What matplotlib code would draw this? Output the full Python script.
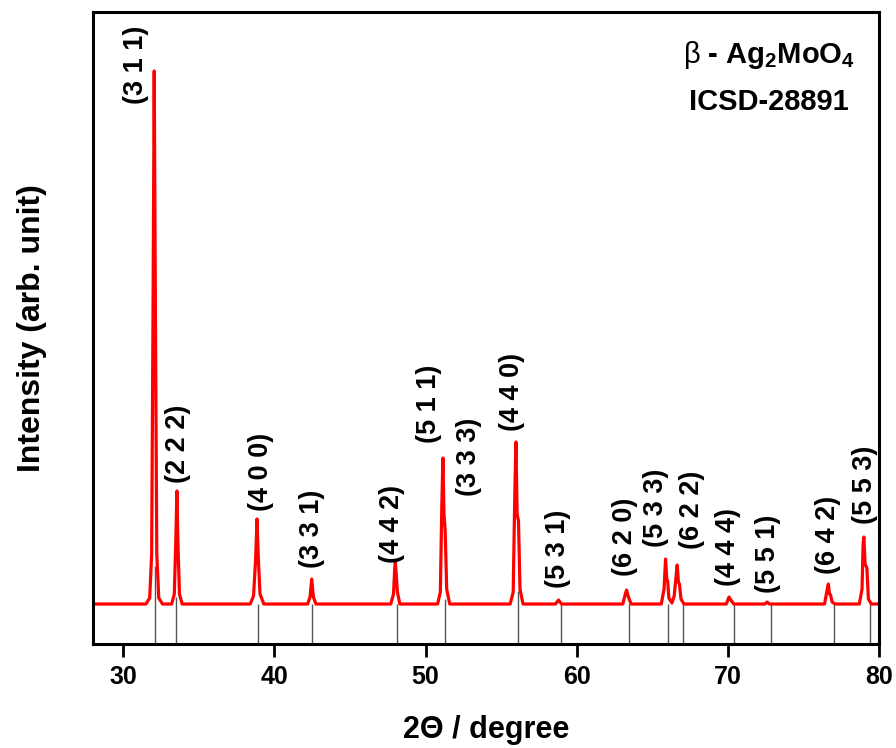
import numpy as np
import matplotlib
matplotlib.use('Agg')
import matplotlib.pyplot as plt

plt.rcParams['font.family'] = ['Liberation Sans', 'DejaVu Sans']
plt.rcParams['mathtext.fontset'] = 'custom'
plt.rcParams['mathtext.rm'] = 'Liberation Sans'
plt.rcParams['mathtext.bf'] = 'Liberation Sans:bold'
plt.rcParams['mathtext.it'] = 'Liberation Sans:italic'

# measured pattern (2theta, intensity in arb. units)
two_theta = [28.0, 31.5, 31.75, 31.88, 31.97, 32.05, 32.13, 32.22, 32.35, 32.6,
             33.2, 33.38, 33.48, 33.55, 33.62, 33.72, 33.9,
             38.4, 38.62, 38.76, 38.85, 38.94, 39.05, 39.3,
             42.2, 42.36, 42.47, 42.58, 42.75,
             47.7, 47.88, 47.96, 48.0, 48.06, 48.14, 48.3,
             50.8, 50.98, 51.08, 51.15, 51.22, 51.3, 51.4, 51.6,
             55.6, 55.8, 55.9, 55.98, 56.06, 56.15, 56.25, 56.45,
             58.6, 58.8, 59.0,
             63.05, 63.22, 63.3, 63.4, 63.6,
             65.6, 65.78, 65.88, 65.96, 66.02, 66.1, 66.3, 66.45, 66.65, 66.73, 66.8, 66.9, 67.1,
             69.9, 70.08, 70.2, 70.4,
             72.45, 72.6, 72.75,
             76.4, 76.58, 76.65, 76.73, 76.8, 76.9, 77.1,
             78.7, 78.88, 78.95, 79.0, 79.08, 79.2, 79.3, 79.5, 80.0]
intensity = [40, 40, 46, 90, 330, 573, 330, 90, 46, 40,
             40, 50, 105, 153, 100, 50, 40,
             40, 48, 85, 125, 85, 50, 40,
             40, 47, 65, 47, 40,
             40, 50, 75, 82, 70, 52, 40,
             40, 52, 140, 186, 130, 113, 55, 40,
             40, 52, 145, 202, 130, 123, 55, 40,
             40, 44, 40,
             40, 50, 54, 48, 40,
             40, 55, 85, 65, 63, 46, 41, 48, 79, 62, 60, 45, 40,
             40, 47, 44, 40,
             40, 42, 40,
             40, 55, 60, 50, 49, 42, 40,
             40, 55, 100, 107, 80, 76, 45, 40, 40]

# ICSD-28891 reference reflections
ref_pos = [32.08, 33.52, 38.89, 42.52, 48.13, 51.27, 56.15, 58.95,
           63.49, 66.07, 67.01, 70.38, 72.87, 77.0, 79.38]
ref_height = [78, 47, 40, 40, 40, 45, 53, 40, 40, 40, 40, 40, 40, 40, 40]

# hkl labels
hkl = ['(3 1 1)', '(2 2 2)', '(4 0 0)', '(3 3 1)', '(4 4 2)', '(5 1 1)', '(3 3 3)', '(4 4 0)',
       '(5 3 1)', '(6 2 0)', '(5 3 3)', '(6 2 2)', '(4 4 4)', '(5 5 1)', '(6 4 2)', '(5 5 3)']
hkl_x = [30.86, 33.64, 39.1, 42.52, 47.81, 50.26, 52.9, 55.7,
         58.75, 63.2, 65.23, 67.6, 69.98, 72.64, 76.62, 79.07]
hkl_y = [540, 161, 133, 76, 81, 201, 148, 213,
         56, 68, 97, 95, 58, 51, 70, 120]

fig = plt.figure(figsize=(8.96, 7.48), dpi=100)
ax = fig.add_axes([0.1038, 0.139, 0.8772, 0.845])

ax.vlines(ref_pos, 0, ref_height, color='#555555', lw=1.0, zorder=1)
ax.plot(two_theta, intensity, color='#ff0000', lw=2.3, zorder=2)

for t, x, y in zip(hkl, hkl_x, hkl_y):
    ax.text(x, y, t, rotation=90, ha='center', va='bottom',
            fontsize=19.5, fontweight='bold')

ax.text(0.86, 0.919, r'$\mathrm{\beta}$ - Ag$_\mathbf{2}$MoO$_\mathbf{4}$',
        transform=ax.transAxes, ha='center', va='baseline', fontsize=21, fontweight='bold')
ax.text(0.86, 0.845, 'ICSD-28891', transform=ax.transAxes, ha='center', va='baseline',
        fontsize=21, fontweight='bold')

ax.set_xlim(28, 80)
ax.set_ylim(0, 632)
ax.set_xticks([30, 40, 50, 60, 70, 80])
ax.set_yticks([])
ax.tick_params(axis='x', direction='out', length=9, width=2, labelsize=18, pad=6)
for lab in ax.get_xticklabels():
    lab.set_fontweight('bold')
for sp in ax.spines.values():
    sp.set_linewidth(2.2)

ax.set_xlabel('2\u0398 / degree', fontsize=22, fontweight='bold', labelpad=19)
ax.set_ylabel('Intensity (arb. unit)', fontsize=23, fontweight='bold', labelpad=33)

plt.savefig('out.png', dpi=100)
